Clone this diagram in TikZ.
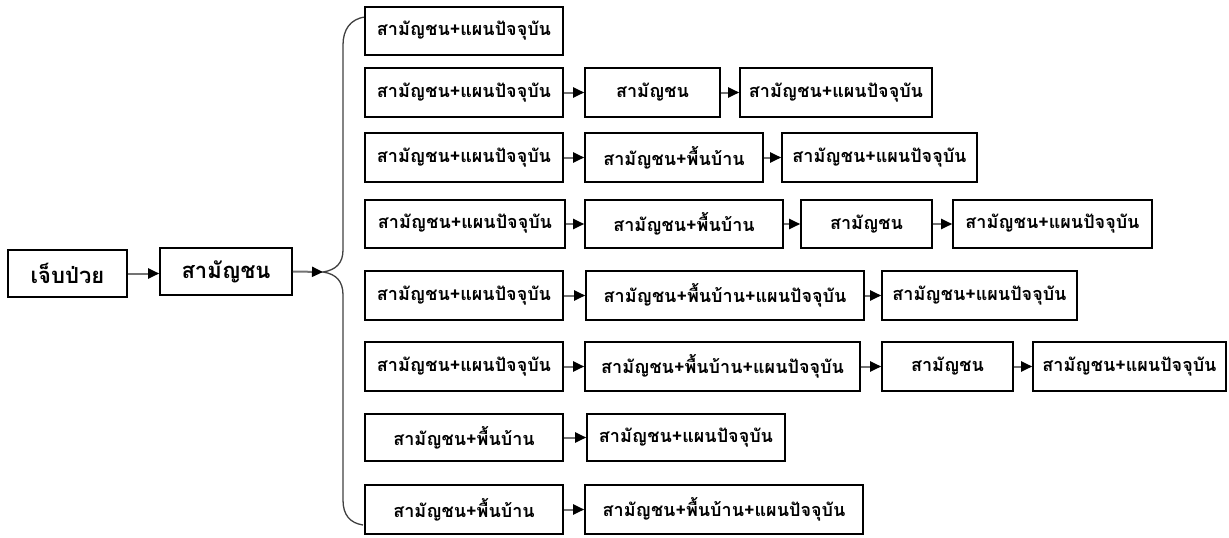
\documentclass[tikz,border=0pt]{standalone}
\usepackage{fontspec}
\newfontfamily\thaifont[Script=Thai]{Loma}
\usetikzlibrary{arrows.meta}
\tikzset{
  box/.style={draw=black, line width=1.6pt, fill=white, inner sep=0pt, font=\thaifont\bfseries\fontsize{18}{21}\selectfont},
  bigbox/.style={box, font=\thaifont\bfseries\fontsize{22}{25}\selectfont},
  arr/.style={draw=black!55, line width=2pt, -{Triangle[length=11pt,width=10pt,color=black]}},
  bracestyle/.style={draw=black!75, line width=1.3pt}
}
\newcommand{\bx}[7][box]{% style, name, x1, x2, y1, y2, text
  \node[#1, minimum width={#4-#3}, minimum height={#6-#5}] (#2) at ({(#3+#4)/2},{(#5+#6)/2}) {#7};}
\begin{document}
\begin{tikzpicture}[x=1pt, y=-1pt]
\useasboundingbox (0,0) rectangle (1229,538);
\def\SK{สามัญชน}
\def\SP{สามัญชน+แผนปัจจุบัน}
\def\SF{สามัญชน+พื้นบ้าน}
\def\SFP{สามัญชน+พื้นบ้าน+แผนปัจจุบัน}
\bx[bigbox]{ill}{8}{127}{250}{297}{เจ็บป่วย}
\bx[bigbox]{sk}{160}{292}{248}{295}{\SK}
\coordinate (tip) at (323,272);
% brace
\draw[bracestyle] (365,17) .. controls (350,19) and (343,30) .. (343,45) -- (343,250)
  .. controls (343,263) and (336,270) .. (tip)
  .. controls (336,274) and (343,281) .. (343,295) -- (343,500)
  .. controls (343,515) and (350,523) .. (363,525);
\draw[arr] (ill.east) -- (ill.east -| sk.west);
\draw[arr] (sk.east) -- (tip);
% row 1
\bx{r1a}{365}{563}{7}{55}{\SP}
% row 2
\bx{r2a}{365}{563}{68}{117}{\SP}
\bx{r2b}{585}{720}{68}{117}{\SK}
\bx{r2c}{740}{932}{68}{117}{\SP}
% row 3
\bx{r3a}{365}{563}{133}{182}{\SP}
\bx{r3b}{585}{763}{133}{182}{\SF}
\bx{r3c}{782}{977}{133}{182}{\SP}
% row 4
\bx{r4a}{365}{565}{200}{248}{\SP}
\bx{r4b}{585}{783}{200}{248}{\SF}
\bx{r4c}{801}{932}{200}{248}{\SK}
\bx{r4d}{953}{1152}{200}{248}{\SP}
% row 5
\bx{r5a}{365}{563}{271}{320}{\SP}
\bx{r5b}{586}{864}{271}{320}{\SFP}
\bx{r5c}{882}{1077}{271}{320}{\SP}
% row 6
\bx{r6a}{365}{563}{342}{391}{\SP}
\bx{r6b}{585}{860}{342}{391}{\SFP}
\bx{r6c}{882}{1013}{342}{391}{\SK}
\bx{r6d}{1033}{1226}{342}{391}{\SP}
% row 7
\bx{r7a}{365}{563}{414}{461}{\SF}
\bx{r7b}{587}{785}{414}{461}{\SP}
% row 8
\bx{r8a}{365}{563}{485}{534}{\SF}
\bx{r8b}{585}{863}{485}{534}{\SFP}
% arrows
\foreach \a/\b in {r2a/r2b,r2b/r2c,r3a/r3b,r3b/r3c,r4a/r4b,r4b/r4c,r4c/r4d,r5a/r5b,r5b/r5c,r6a/r6b,r6b/r6c,r6c/r6d,r7a/r7b,r8a/r8b}
  \draw[arr] (\a.east) -- (\a.east -| \b.west);
\end{tikzpicture}
\end{document}
